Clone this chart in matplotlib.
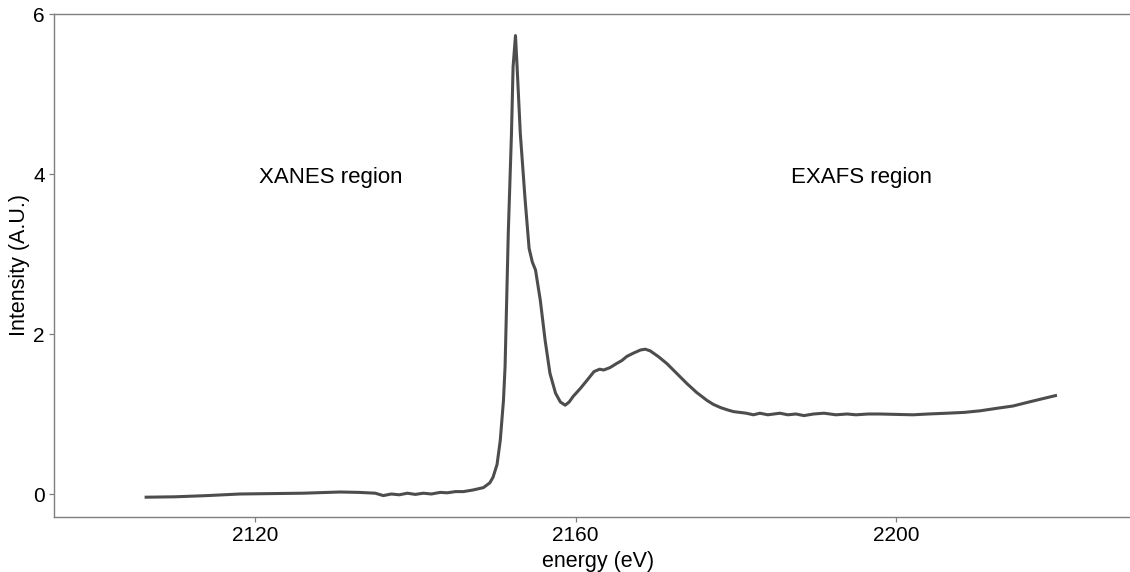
import matplotlib
matplotlib.use("Agg")
import matplotlib.pyplot as plt

plt.rcParams['font.family'] = ['Liberation Sans', 'DejaVu Sans']

energy = [2106.4, 2110.0, 2114.0, 2118.1, 2122.0, 2126.0, 2130.6, 2133.0, 2135.0, 2136.0,
          2137.0, 2138.0, 2139.0, 2140.0, 2141.0, 2142.0, 2143.1, 2144.0, 2145.0, 2146.0,
          2147.2, 2148.5, 2149.3, 2149.7, 2150.2, 2150.6, 2151.0, 2151.2, 2151.4, 2151.6,
          2152.0, 2152.2, 2152.5, 2152.7, 2153.1, 2153.7, 2154.2, 2154.6, 2155.0, 2155.6,
          2156.2, 2156.8, 2157.5, 2158.1, 2158.7, 2159.2, 2159.7, 2160.6, 2161.5, 2162.3,
          2163.0, 2163.5, 2164.3, 2165.1, 2165.8, 2166.4, 2167.2, 2168.1, 2168.7, 2169.3,
          2170.3, 2171.4, 2172.6, 2173.9, 2175.1, 2176.4, 2177.2, 2178.1, 2179.0, 2179.7,
          2180.5, 2181.3, 2182.2, 2183.0, 2184.0, 2185.5, 2186.5, 2187.5, 2188.5, 2189.7,
          2191.0, 2192.5, 2193.9, 2195.0, 2196.5, 2198.0, 2200.0, 2202.1, 2204.0, 2206.4,
          2208.5, 2210.5, 2212.5, 2214.6, 2217.0, 2219.9]
intensity = [-0.04, -0.035, -0.02, 0.00, 0.005, 0.01, 0.025, 0.02, 0.01, -0.02,
             0.00, -0.01, 0.01, -0.005, 0.01, 0.00, 0.02, 0.015, 0.03, 0.03,
             0.05, 0.08, 0.14, 0.21, 0.37, 0.67, 1.17, 1.59, 2.42, 3.26,
             4.51, 5.34, 5.73, 5.34, 4.51, 3.68, 3.07, 2.90, 2.80, 2.42,
             1.92, 1.51, 1.26, 1.15, 1.11, 1.15, 1.22, 1.32, 1.43, 1.53,
             1.56, 1.55, 1.58, 1.63, 1.67, 1.72, 1.76, 1.80, 1.81, 1.79,
             1.72, 1.63, 1.51, 1.38, 1.27, 1.17, 1.12, 1.08, 1.05, 1.03,
             1.02, 1.01, 0.99, 1.01, 0.99, 1.01, 0.99, 1.00, 0.98, 1.00,
             1.01, 0.99, 1.00, 0.99, 1.00, 1.00, 0.995, 0.99, 1.00, 1.01,
             1.02, 1.04, 1.07, 1.10, 1.16, 1.23]

x_ticks = [2120, 2160, 2200]
y_ticks = [0, 2, 4, 6]
annotations = [("XANES region", 2129.4, 3.95), ("EXAFS region", 2195.7, 3.95)]

fig = plt.figure(figsize=(11.3, 5.72), dpi=100)
ax = fig.add_axes([54/1130, 55/572, 1.0 - 54/1130 + 0.01, (517-14)/572])

ax.plot(energy, intensity, color='#4d4d4d', linewidth=2.2, solid_joinstyle='round')

ax.set_xlim(2094.9, 2229.2 + 0.01*1130/8.01)
ax.set_ylim(-0.2875, 6.0)
ax.set_xticks(x_ticks)
ax.set_yticks(y_ticks)

for s in ['left', 'bottom', 'top']:
    ax.spines[s].set_color('#7f7f7f')
    ax.spines[s].set_linewidth(1.0)
ax.spines['right'].set_visible(False)

ax.tick_params(axis='both', which='major', length=3.5, width=0.9, color='#7f7f7f',
               labelsize=15, labelcolor='black', pad=3)

ax.set_xlabel('energy (eV)', fontsize=15.5, labelpad=4)
ax.set_ylabel('Intensity (A.U.)', fontsize=15.5, labelpad=2)

for txt, xx, yy in annotations:
    ax.text(xx, yy, txt, fontsize=16, ha='center', va='center')

fig.savefig('out.png', dpi=100)
